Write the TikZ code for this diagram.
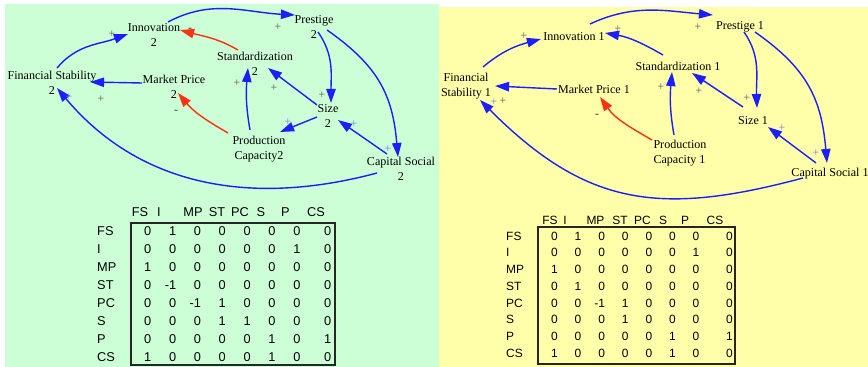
\documentclass[tikz,border=0pt]{standalone}
\usepackage{fontspec}
\setmainfont{Liberation Serif}
\newfontfamily\matfont{Liberation Sans}
\usetikzlibrary{arrows.meta}
\definecolor{linkblue}{RGB}{30,30,250}
\definecolor{linkred}{RGB}{250,50,20}
\definecolor{signblue}{RGB}{120,120,230}
\definecolor{signgray}{RGB}{90,90,90}
\definecolor{panelgreen}{RGB}{204,255,214}
\definecolor{panelyellow}{RGB}{255,255,170}
\begin{document}
\begin{tikzpicture}[
        x=0.03cm, y=0.03cm,
        var/.style={align=center, inner sep=0pt, font=\fontsize{10.3}{12.8}\selectfont},
        link/.style={line width=1.2pt, -{Triangle[length=12pt, width=8pt]}},
        poslink/.style={link, draw=linkblue},
        neglink/.style={link, draw=linkred},
        polarity/.style={inner sep=0pt, font=\fontsize{10}{12}\selectfont, text=signgray},
        bluepolarity/.style={polarity, text=signblue},
        minuspolarity/.style={polarity, text=black!80},
        lcell/.style={inner sep=0pt, font=\matfont\fontsize{10.9}{12}\selectfont},
        rcell/.style={inner sep=0pt, font=\matfont\fontsize{10.2}{11}\selectfont},
        matbox/.style={draw=black!85, line width=1pt}
    ]
        \useasboundingbox (0,0) rectangle (868,367);
        % Panels
        \fill[panelgreen] (5,0) rectangle (439,363);
        \fill[panelyellow] (439,0) rectangle (868,360);

        % Left loop diagram - run 2
        \node[var] (fs2) at (52,284) {Financial Stability\\2};
        \node[var] (inn2) at (154,332) {Innovation\\2};
        \node[var] (pre2) at (314,340) {Prestige\\2};
        \node[var] (std2) at (255,303) {Standardization\\2};
        \node[var] (mp2) at (174,280) {Market Price\\2};
        \node[var] (size2) at (328,251) {Size\\2};
        \node[var] (pc2) at (259,218) {Production\\Capacity2};
        \node[var] (cs2) at (401,198) {Capital Social\\2};

        \draw[poslink] ([shift={(5,15)}]fs2.center) to[out=50,in=200] ([shift={(-26,1)}]inn2.center);
        \draw[poslink] ([shift={(14,13)}]inn2.center) to[out=28,in=177] ([shift={(-19,12)}]pre2.center);
        \draw[neglink] ([shift={(-17,14)}]std2.center) to[out=150,in=-15] ([shift={(26,5)}]inn2.center);
        \draw[poslink] ([shift={(-32,4)}]mp2.center) -- ([shift={(38,1)}]fs2.center);
        \draw[neglink] ([shift={(-31,16)}]pc2.center) to[out=150,in=-50] ([shift={(4,-6)}]mp2.center);
        \draw[poslink] ([shift={(-9,19)}]pc2.center) to[out=100,in=-95] ([shift={(-7,-4)}]std2.center);
        \draw[poslink] ([shift={(-11,11)}]size2.center) -- ([shift={(13,-4)}]std2.center);
        \draw[poslink] ([shift={(4,-5)}]pre2.center) to[out=-55,in=90] ([shift={(3,13)}]size2.center);
        \draw[poslink] ([shift={(-11,-1)}]size2.center) -- ([shift={(21,17)}]pc2.center);
        \draw[poslink] ([shift={(-14,15)}]cs2.center) -- ([shift={(10,-4)}]size2.center);
        \draw[poslink] ([shift={(13,-3)}]pre2.center) to[out=-35,in=95,looseness=1.1] ([shift={(-3,12)}]cs2.center);
        \draw[poslink] ([shift={(-24,-4)}]cs2.center) to[out=195,in=-50] ([shift={(5,-5)}]fs2.center);

        \foreach \x/\y [count=\i] in {112/333, 278/340, 101/268, 237/284, 274/279, 322/272}
            \node[polarity] (lplus\i) at (\x,\y) {+};
        \foreach \x/\y [count=\i] in {69/270, 288/245, 354/243, 388/218}
            \node[bluepolarity] (lbplus\i) at (\x,\y) {+};
        \foreach \x/\y [count=\i] in {190/337, 176/255}
            \node[minuspolarity] (lminus\i) at (\x,\y) {-};

        % Right loop diagram - run 1
        \node[var] (fs1) at (466,281) {Financial\\Stability 1};
        \node[var] (inn1) at (574,330) {Innovation 1};
        \node[var] (pre1) at (740,340) {Prestige 1};
        \node[var] (std1) at (678,301) {Standardization 1};
        \node[var] (mp1) at (594,278) {Market Price 1};
        \node[var] (size1) at (753,246) {Size 1};
        \node[var, align=left] (pc1) at (680,214) {Production\\Capacity 1};
        \node[var] (cs1) at (830,193) {Capital Social 1};

        \draw[poslink] ([shift={(17,19)}]fs1.center) to[out=40,in=195] ([shift={(-33,-2)}]inn1.center);
        \draw[poslink] ([shift={(16,13)}]inn1.center) to[out=25,in=175] ([shift={(-27,12)}]pre1.center);
        \draw[poslink] ([shift={(-15,11)}]std1.center) to[out=150,in=-10] ([shift={(31,4)}]inn1.center);
        \draw[poslink] ([shift={(-37,0)}]mp1.center) -- ([shift={(29,0)}]fs1.center);
        \draw[neglink] ([shift={(-28,13)}]pc1.center) to[out=150,in=-55] ([shift={(6,-8)}]mp1.center);
        \draw[poslink] ([shift={(-6,18)}]pc1.center) to[out=100,in=-95] ([shift={(-6,-6)}]std1.center);
        \draw[poslink] ([shift={(-10,14)}]size1.center) -- ([shift={(14,-7)}]std1.center);
        \draw[poslink] ([shift={(4,-5)}]pre1.center) to[out=-55,in=92] ([shift={(4,13)}]size1.center);
        \draw[poslink] ([shift={(15,-5)}]pre1.center) to[out=-35,in=95,looseness=1.1] ([shift={(-3,11)}]cs1.center);
        \draw[poslink] ([shift={(-14,11)}]cs1.center) -- ([shift={(15,-6)}]size1.center);
        \draw[poslink] ([shift={(-27,-4)}]cs1.center) to[out=195,in=-45,looseness=1.15] ([shift={(14,-14)}]fs1.center);

        \foreach \x/\y [count=\i] in {524/331, 618/338, 698/340, 503/266, 661/280, 699/276, 747/269}
            \node[polarity] (rplus\i) at (\x,\y) {+};
        \foreach \x/\y [count=\i] in {494/265, 782/239, 816/214}
            \node[bluepolarity] (rbplus\i) at (\x,\y) {+};
        \node[minuspolarity] (rminus1) at (597,251) {-};

        % Left matrix
        \foreach \h/\x [count=\i] in {FS/140, I/159, MP/193, ST/217, PC/240, S/261, P/285.5, CS/316}
            \node[lcell] (lhead\i) at (\x,155) {\h};
        \draw[matbox] (131,2) rectangle (335,144);
        \foreach \lab/\vals [count=\r] in {FS/{0,1,0,0,0,0,0,0}, I/{0,0,0,0,0,0,1,0},
                MP/{1,0,0,0,0,0,0,0}, ST/{0,-1,0,0,0,0,0,0}, PC/{0,0,-1,1,0,0,0,0},
                S/{0,0,0,1,1,0,0,0}, P/{0,0,0,0,0,1,0,1}, CS/{1,0,0,0,0,1,0,0}} {
            \node[lcell, anchor=west] (lrow\r) at (97,{154-18*\r}) {\lab};
            \foreach \v [count=\c] in \vals
                \node[lcell, anchor=east] (lm-\r-\c) at ({151.5+24.85*(\c-1)+6*(\c==8)},{154-18*\r}) {\v};
        }

        % Right matrix
        \foreach \h/\x [count=\i] in {FS/550, I/565, MP/595.5, ST/620, PC/642.5, S/663, P/685, CS/715}
            \node[rcell] (rhead\i) at (\x,147) {\h};
        \draw[matbox] (538,3) rectangle (735,140);
        \foreach \lab/\vals [count=\r] in {FS/{0,1,0,0,0,0,0,0}, I/{0,0,0,0,0,0,1,0},
                MP/{1,0,0,0,0,0,0,0}, ST/{0,1,0,0,0,0,0,0}, PC/{0,0,-1,1,0,0,0,0},
                S/{0,0,0,1,0,0,0,0}, P/{0,0,0,0,0,1,0,1}, CS/{1,0,0,0,0,1,0,0}} {
            \node[rcell, anchor=west] (rrow\r) at (506,{147.75-16.75*\r}) {\lab};
            \foreach \v [count=\c] in \vals
                \node[rcell, anchor=east] (rm-\r-\c) at ({558+23.6*(\c-1)+9.8*(\c==8)},{147.75-16.75*\r}) {\v};
        }
    \end{tikzpicture}
\end{document}
